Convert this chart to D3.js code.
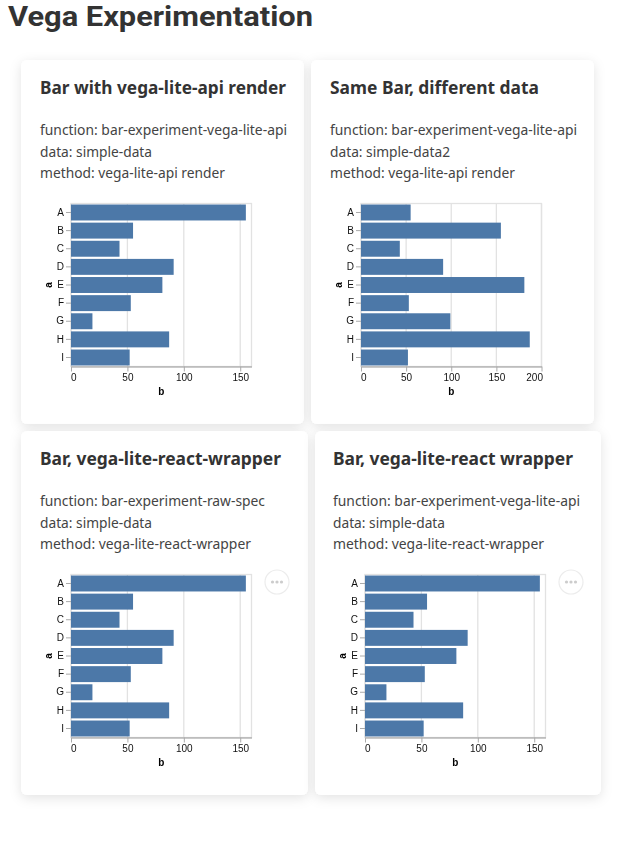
<!DOCTYPE html>
<html><head><meta charset="utf-8">
<script src="https://cdn.jsdelivr.net/npm/d3@7"></script>
<style>
html,body{margin:0;padding:0;background:#fff}
svg{display:block}
.chart{filter:blur(0.45px)}
</style></head><body>
<svg id="root" width="638" height="857"></svg>
<script>
const pageTitle = "Vega Experimentation";
const categories = ["A","B","C","D","E","F","G","H","I"];
const simpleData = [155,55,43,91,81,53,19,87,52];
const simpleData2 = [55,155,43,91,181,53,99,187,52];
const ticks160 = [0,50,100,150];
const ticks200 = [0,50,100,150,200];
const cardTitles = ["Bar with vega-lite-api render","Same Bar, different data","Bar, vega-lite-react-wrapper","Bar, vega-lite-react wrapper"];
const cardFunctions = ["function: bar-experiment-vega-lite-api","function: bar-experiment-vega-lite-api","function: bar-experiment-raw-spec","function: bar-experiment-vega-lite-api"];
const cardData = ["data: simple-data","data: simple-data2","data: simple-data","data: simple-data"];
const cardMethods = ["method: vega-lite-api render","method: vega-lite-api render","method: vega-lite-react-wrapper","method: vega-lite-react-wrapper"];

const layouts = [
  {x:21,y:60,w:283,h:364,tx:40,px:71,values:simpleData,max:160,ticks:ticks160,menu:false},
  {x:311,y:60,w:283,h:364,tx:330,px:361,values:simpleData2,max:200,ticks:ticks200,menu:false},
  {x:21,y:431,w:287,h:364,tx:40,px:71,values:simpleData,max:160,ticks:ticks160,menu:true},
  {x:315,y:431,w:286,h:364,tx:333,px:365,values:simpleData,max:160,ticks:ticks160,menu:true}
];
const svg = d3.select("#root");
const defs = svg.append("defs");
const f = defs.append("filter").attr("id","sh").attr("x","-15%").attr("y","-15%").attr("width","130%").attr("height","130%");
f.append("feDropShadow").attr("dx",0).attr("dy",3).attr("stdDeviation",6).attr("flood-color","#000").attr("flood-opacity",0.11);

const ui = "'Noto Sans',sans-serif";
svg.append("text").attr("x",8).attr("y",26).attr("font-family","Roboto,sans-serif").attr("font-weight",700)
  .attr("font-size",28).attr("fill","#333").attr("textLength",305).attr("lengthAdjust","spacingAndGlyphs").text(pageTitle);

layouts.forEach((c,i)=>{
  const g = svg.append("g");
  g.append("rect").attr("x",c.x).attr("y",c.y).attr("width",c.w).attr("height",c.h).attr("rx",6)
    .attr("fill","#fff").attr("filter","url(#sh)");
  const titleW = [246,209,241,240][i];
  g.append("text").attr("x",c.tx).attr("y",c.y+34).attr("font-family",ui).attr("font-weight",700)
    .attr("font-size",17).attr("fill","#333").attr("textLength",titleW).attr("lengthAdjust","spacingAndGlyphs").text(cardTitles[i]);
  const lines = [cardFunctions[i],cardData[i],cardMethods[i]];
  const lw = [[247,112,185],[247,120,185],[225,112,211],[247,112,211]][i];
  lines.forEach((t,k)=>{
    g.append("text").attr("x",c.tx).attr("y",c.y+75+k*21.5).attr("font-family",ui)
      .attr("font-size",14).attr("fill","#444").attr("textLength",lw[k]).attr("lengthAdjust","spacingAndGlyphs").text(t);
  });

  const top = c.y+143.5, H = 163, W = 180.5;
  const x = d3.scaleLinear().domain([0,c.max]).range([0,W]);
  const y = d3.scaleBand().domain(categories).range([0,H]).paddingInner(0.12).paddingOuter(0.056);
  const p = g.append("g").attr("class","chart").attr("transform",`translate(${c.px},${top})`);
  // grid
  p.append("g").selectAll("line").data(c.ticks).join("line")
    .attr("x1",d=>x(d)).attr("x2",d=>x(d)).attr("y1",0).attr("y2",H).attr("stroke","#e2e2e2").attr("stroke-width",1.3);
  p.append("rect").attr("width",W).attr("height",H).attr("fill","none").attr("stroke","#e2e2e2").attr("stroke-width",1.3);
  // bars
  p.append("g").selectAll("rect").data(c.values).join("rect")
    .attr("x",0).attr("y",(d,j)=>y(categories[j])).attr("width",d=>x(d)).attr("height",y.bandwidth())
    .attr("fill","#4c78a8");
  // axes
  const font = "'Liberation Sans',Arial,sans-serif";
  const ax = p.append("g").attr("transform",`translate(0,${H})`).call(d3.axisBottom(x).tickValues(c.ticks).tickSize(5).tickSizeOuter(0).tickPadding(2));
  ax.select(".domain").attr("stroke","#999");
  ax.selectAll(".tick line").attr("stroke","#aaa");
  ax.selectAll("text").attr("font-family",font).attr("font-size",10).attr("fill","#111");
  const tickAnchors = ax.selectAll(".tick text").filter(d=>d===0);
  tickAnchors.attr("text-anchor","start").attr("dx",-0.5);
  ax.selectAll(".tick text").filter(d=>d===c.max).attr("text-anchor","end").attr("dx",1);
  const ay = p.append("g").call(d3.axisLeft(y).tickSize(5).tickSizeOuter(0).tickPadding(2));
  ay.select(".domain").remove();
  ay.selectAll(".tick line").attr("stroke","#aaa");
  ay.selectAll("text").attr("font-family",font).attr("font-size",10).attr("fill","#111");
  p.append("text").attr("x",W/2).attr("y",H+28).attr("text-anchor","middle").attr("font-family",font)
    .attr("font-size",10).attr("font-weight",700).attr("fill","#000").text("b");
  p.append("text").attr("transform",`translate(-19.5,${H/2}) rotate(-90)`).attr("text-anchor","middle").attr("font-family",font)
    .attr("font-size",10).attr("font-weight",700).attr("fill","#000").text("a");

  if(c.menu){
    const cx=c.px+206, cy=c.y+151;
    const m=g.append("g");
    m.append("circle").attr("cx",cx).attr("cy",cy).attr("r",12).attr("fill","#fff").attr("stroke","#ececec").attr("stroke-width",1.2);
    m.selectAll("circle.dot").data([-4.5,0,4.5]).join("circle").attr("class","dot").attr("cx",d=>cx+d).attr("cy",cy).attr("r",1.6).attr("fill","#ccc");
  }
});
</script></body></html>
